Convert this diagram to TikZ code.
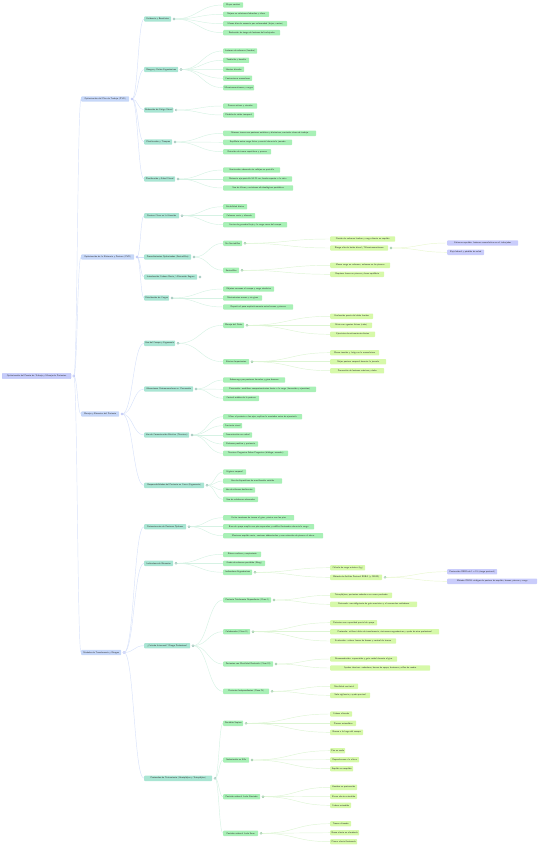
\documentclass[tikz,border=0pt]{standalone}
\usetikzlibrary{calc}
\definecolor{rootfill}{HTML}{C5CBFA}
\definecolor{rootline}{HTML}{AEB8F4}
\definecolor{onefill}{HTML}{C6D7F8}
\definecolor{twofill}{HTML}{A9E5D3}
\definecolor{threefill}{HTML}{A8F0B6}
\definecolor{fourfill}{HTML}{D6F9A9}
\definecolor{fivefill}{HTML}{C9CCFB}
\definecolor{bluelink}{HTML}{D8E2FA}
\definecolor{greenlink}{HTML}{D6F2E4}
\definecolor{limelink}{HTML}{DDF5D4}
\definecolor{palelink}{HTML}{E8F7CF}
\begin{document}
\begin{tikzpicture}[x=1pt,y=-1pt,
  box/.style={anchor=west, rounded corners=0.8pt, inner xsep=1pt, inner ysep=0pt,
    minimum height=5.4pt, font=\fontsize{2.25}{3}\selectfont\sffamily, text=black!80},
  l0/.style={box, fill=rootfill, draw=rootline, line width=0.2pt},
  l1/.style={box, fill=onefill},
  l2/.style={box, fill=twofill},
  l3/.style={box, fill=threefill},
  l4/.style={box, fill=fourfill},
  l5/.style={box, fill=fivefill},
  link/.style={line width=0.45pt, draw=#1,
    to path={.. controls ($(\tikztostart)!0.5!(\tikztotarget|-\tikztostart)$)
      and ($(\tikztotarget)!0.5!(\tikztostart|-\tikztotarget)$) .. (\tikztotarget)}},
  knob/.style={draw=#1, fill=white, line width=0.3pt}]
\useasboundingbox (0,0) rectangle (542,848);

% root and first level
\node[l0,minimum width=69] (r) at (2,376) {Optimización del Puesto de Trabajo y Manejo de Pacientes};
\node[l1,minimum width=48] (a) at (81,99) {Optimización del Plan de Trabajo (PVD)};
\node[l1,minimum width=53] (b) at (81,257) {Optimización de la Eficiencia y Postura (PVD)};
\node[l1,minimum width=38] (c) at (81,414) {Manejo y Bienestar del Paciente};
\node[l1,minimum width=40] (d) at (81,652.5) {Modelos de Transferencia y Riesgos};

% second level
\node[l2,minimum width=27] (a1) at (144,19) {Evidencia y Beneficios};
\node[l2,minimum width=34] (a2) at (144,69.5) {Riesgos y Daños Ergonómicos};
\node[l2,minimum width=29] (a3) at (144,110) {Reducción de Fatiga Visual};
\node[l2,minimum width=28] (a4) at (144,142) {Planificación y Tiempos};
\node[l2,minimum width=31] (a5) at (144,179) {Planificación y Salud Visual};
\node[l2,minimum width=35] (b1) at (144,215.7) {Postura Clave en la Atención};
\node[l2,minimum width=47] (b2) at (144,257) {Procedimientos Optimizados (Sentadillas)};
\node[l2,minimum width=53] (b3) at (144,277) {Introducción Cadena Recta / Alineación Segura};
\node[l2,minimum width=25] (b4) at (144,298) {Distribución de Cargas};
\node[l2,minimum width=31] (c1) at (144,343.3) {Uso del Cuerpo y Ergonomía};
\node[l2,minimum width=49] (c2) at (144,389) {Alteraciones Osteomusculares vs. Prevención};
\node[l2,minimum width=45] (c3) at (144,435) {Uso de Comunicación Efectiva (Técnicas)};
\node[l2,minimum width=60] (c4) at (144,485.3) {Responsabilidades del Paciente en Cama (Ergonomía)};
\node[l2,minimum width=42] (d1) at (144,526.7) {Determinantes de Posturas Óptimas};
\node[l2,minimum width=29] (d2) at (144,563.3) {Indicadores de Bienestar};
\node[l2,minimum width=46] (d3) at (144,645.7) {¿Cuándo Intervenir? Riesgo Profesional};
\node[l2,minimum width=68] (d4) at (144,778.3) {Protocolos de Tratamiento (Hemipléjico y Tetrapléjico)};

% third level
\node[l3,minimum width=20] (a1a) at (223,5) {Mayor confort};
\node[l3,minimum width=46] (a1b) at (223,14.3) {Mejora en relaciones laborales y clima};
\node[l3,minimum width=64] (a1c) at (223,23.7) {Menos días de ausencia por enfermedad (bajas, costes)};
\node[l3,minimum width=57] (a1d) at (223,32.7) {Reducción de riesgo de lesiones del trabajador};
\node[l3,minimum width=34] (a2a) at (223,51) {Lesiones de columna (lumbar)};
\node[l3,minimum width=26] (a2b) at (223,60.3) {Tendinitis y bursitis};
\node[l3,minimum width=21] (a2c) at (223,69.3) {Hernias discales};
\node[l3,minimum width=29] (a2d) at (223,78.3) {Contracturas musculares};
\node[l3,minimum width=31] (a2e) at (223,87.7) {Microtraumatismos y cargas};
\node[l3,minimum width=34] (a3a) at (223,106) {Pausas activas y visuales};
\node[l3,minimum width=31] (a3b) at (223,115) {Pérdida de visión temporal};
\node[l3,minimum width=93] (a4a) at (223,133.3) {Alternar tareas con posturas estáticas y dinámicas, controlar ritmo de trabajo};
\node[l3,minimum width=69] (a4b) at (223,142.3) {Equilibrio entre carga física y mental durante la jornada};
\node[l3,minimum width=48] (a4c) at (223,151.7) {Rotación de tareas repetitivas y pausas};
\node[l3,minimum width=57] (a5a) at (223,170) {Iluminación adecuada sin reflejos en pantalla};
\node[l3,minimum width=69] (a5b) at (223,179) {Distancia ojo-pantalla 50-70 cm, borde superior a la vista};
\node[l3,minimum width=70] (a5c) at (223,188) {Uso de filtros y revisiones oftalmológicas periódicas};
\node[l3,minimum width=24] (b1a) at (223,206.7) {Estabilidad básica};
\node[l3,minimum width=32] (b1b) at (223,215.7) {Columna recta y alineada};
\node[l3,minimum width=64] (b1c) at (223,224.7) {Centro de gravedad bajo y la carga cerca del cuerpo};
\node[l3,minimum width=19] (b2a) at (223,243.3) {Sin Sentadillas};
\node[l3,minimum width=16] (b2b) at (223,270.3) {Sentadillas};
\node[l3,minimum width=51] (b4a) at (223,289) {Objetos cercanos al cuerpo y carga simétrica};
\node[l3,minimum width=39] (b4b) at (223,298) {Movimientos suaves y sin giros};
\node[l3,minimum width=70] (b4c) at (223,307) {Repartir el peso equitativamente entre brazos y piernas};
\node[l3,minimum width=21] (c1a) at (223,325.3) {Manejo del Dolor};
\node[l3,minimum width=26] (c1b) at (223,361.7) {Efectos Importantes};
\node[l3,minimum width=62] (c2a) at (223,380) {Sobrecarga por posturas forzadas y giros bruscos};
\node[l3,minimum width=93] (c2b) at (223,389.3) {Prevención: modificar comportamientos frente a la carga (formación y ejercicios)};
\node[l3,minimum width=36] (c2c) at (223,398.3) {Control médico de la postura};
\node[l3,minimum width=79] (c3a) at (223,416.7) {Mirar al paciente a los ojos, explicar la maniobra antes de ejecutarla};
\node[l3,minimum width=19] (c3b) at (223,425.7) {Contacto visual};
\node[l3,minimum width=29] (c3c) at (223,435) {Comunicación no verbal};
\node[l3,minimum width=35] (c3d) at (223,444) {Refuerzo positivo y paciencia};
\node[l3,minimum width=65] (c3e) at (223,453.3) {Técnicas Preguntas Sobre Preguntas (diálogo, escucha)};
\node[l3,minimum width=23] (c4a) at (223,472) {Higiene corporal};
\node[l3,minimum width=59] (c4b) at (223,481) {Uso de dispositivos de movilización asistida};
\node[l3,minimum width=32] (c4c) at (223,490) {Uso de sábanas deslizantes};
\node[l3,minimum width=35] (c4d) at (223,499.3) {Uso de colchones adecuados};
\node[l3,minimum width=71] (d1a) at (223,517.7) {Evitar torsiones de tronco al girar, pivotar con los pies};
\node[l3,minimum width=91] (d1b) at (223,526.7) {Base de apoyo amplia con pies separados y rodillas flexionadas durante la carga};
\node[l3,minimum width=100] (d1c) at (223,535.7) {Mantener espalda recta, contraer abdominales y usar músculos de piernas al elevar};
\node[l3,minimum width=38] (d2a) at (223,554.3) {Ritmo cardiaco y respiratorio};
\node[l3,minimum width=42] (d2b) at (223,563.3) {Grado de esfuerzo percibido (Borg)};
\node[l3,minimum width=29] (d2c) at (223,572.3) {Indicadores Ergonómicos};
\node[l3,minimum width=48] (d3a) at (223,600) {Paciente Totalmente Dependiente (Clase I)};
\node[l3,minimum width=27] (d3b) at (223,631.7) {Colaborador (Clase II)};
\node[l3,minimum width=50] (d3c) at (223,664) {Pacientes con Movilidad Reducida (Clase III)};
\node[l3,minimum width=46] (d3d) at (223,691.3) {Pacientes Independientes (Clase IV)};
\node[l3,minimum width=20] (d4a) at (223,723.3) {Decúbito Supino};
\node[l3,minimum width=26] (d4b) at (223,760) {Sedestación en Silla};
\node[l3,minimum width=37] (d4c) at (223,796.7) {Posición sobre el Lado Afectado};
\node[l3,minimum width=35] (d4d) at (223,833.3) {Posición sobre el Lado Sano};

% fourth level
\node[l4,minimum width=65] (b2aa) at (330,239) {Flexión de columna lumbar y carga directa en espalda};
\node[l4,minimum width=58] (b2ab) at (330,248) {Riesgo alto de lesión discal / Microtraumatismos};
\node[l4,minimum width=60] (b2ba) at (330,265.3) {Menor carga en columna, esfuerzo en las piernas};
\node[l4,minimum width=54] (b2bb) at (330,274.3) {Requiere fuerza en piernas y buen equilibrio};
\node[l4,minimum width=43] (c1aa) at (330,316.3) {Evaluación previa del dolor lumbar};
\node[l4,minimum width=42] (c1ab) at (330,325.3) {Alivio con agentes físicos (calor)};
\node[l4,minimum width=45] (c1ac) at (330,334.3) {Ejercicios de estiramiento diarios};
\node[l4,minimum width=49] (c1ba) at (330,352.7) {Menor tensión y fatiga en la musculatura};
\node[l4,minimum width=56] (c1bb) at (330,361.7) {Mejor postura corporal durante la jornada};
\node[l4,minimum width=54] (c1bc) at (330,370.7) {Prevención de lesiones crónicas y dolor};
\node[l4,minimum width=35] (d2ca) at (330,567.7) {Cálculo de carga máxima (kg)};
\node[l4,minimum width=52] (d2cb) at (330,577.3) {Método de Análisis Postural REBA (y OWAS)};
\node[l4,minimum width=62] (d3aa) at (330,595.3) {Tetrapléjicos, pacientes sedados o en coma profundo};
\node[l4,minimum width=87] (d3ab) at (330,604.3) {Protocolo: uso obligatorio de grúa mecánica y al menos dos cuidadores};
\node[l4,minimum width=47] (d3ba) at (330,622.7) {Pacientes con capacidad parcial de apoyo};
\node[l4,minimum width=109] (d3bb) at (330,631.7) {Protocolo: utilizar tablas de transferencia, cinturones ergonómicos y ayuda de otro profesional};
\node[l4,minimum width=66] (d3bc) at (330,641) {Evaluación: valorar fuerza de brazos y control de tronco};
\node[l4,minimum width=67] (d3ca) at (330,659) {Recomendación: supervisión y guía verbal durante el giro};
\node[l4,minimum width=100] (d3cb) at (330,668) {Ayudas técnicas: andadores, barras de apoyo, bastones y sillas de ruedas};
\node[l4,minimum width=28] (d3da) at (330,686.3) {Movilidad casi total};
\node[l4,minimum width=40] (d3db) at (330,695.3) {Solo vigilancia y ayuda puntual};
\node[l4,minimum width=22] (d4aa) at (330,714) {Cabeza alineada};
\node[l4,minimum width=26] (d4ab) at (330,723.3) {Piernas extendidas};
\node[l4,minimum width=33] (d4ac) at (330,732.3) {Brazos a lo largo del cuerpo};
\node[l4,minimum width=15] (d4ba) at (330,750.7) {Pies en suelo};
\node[l4,minimum width=29] (d4bb) at (330,759.7) {Reposabrazos a la altura};
\node[l4,minimum width=23] (d4bc) at (330,768.7) {Espalda en respaldo};
\node[l4,minimum width=27] (d4ca) at (330,787.3) {Hombro en protracción};
\node[l4,minimum width=27] (d4cb) at (330,796.3) {Brazo afecto extendido};
\node[l4,minimum width=21] (d4cc) at (330,805.3) {Cadera extendida};
\node[l4,minimum width=21] (d4da) at (330,823.7) {Tronco alineado};
\node[l4,minimum width=29] (d4db) at (330,832.7) {Brazo afecto en almohada};
\node[l4,minimum width=27] (d4dc) at (330,841.7) {Pierna afecta flexionada};

% fifth level
\node[l5,minimum width=71] (b2aba) at (447,243) {Esfuerzo repetido: lesiones acumulativas en el trabajador};
\node[l5,minimum width=37] (b2abb) at (447,252.3) {Baja laboral y pérdida de salud};
\node[l5,minimum width=50] (d2cba) at (447,571.7) {Puntuación REBA de 1 a 15 (riesgo postural)};
\node[l5,minimum width=90] (d2cbb) at (447,581.3) {Método OWAS: códigos de postura de espalda, brazos, piernas y carga};

% knob points right of every parent
\foreach \p in {r,a,b,c,d,a1,a2,a3,a4,a5,b1,b2,b3,b4,c1,c2,c3,c4,d1,d2,d3,d4,
  b2a,b2b,c1a,c1b,d2c,d3a,d3b,d3c,d3d,d4a,d4b,d4c,d4d,b2ab,d2cb}
  \coordinate (o\p) at ([xshift=2.6]\p.east);

% links
\foreach \p/\c in {r/a,r/b,r/c,r/d,
  a/a1,a/a2,a/a3,a/a4,a/a5,b/b1,b/b2,b/b3,b/b4,c/c1,c/c2,c/c3,c/c4,d/d1,d/d2,d/d3,d/d4}
  \draw[link=bluelink] (o\p) to (\c.west);
\foreach \p/\c in {a1/a1a,a1/a1b,a1/a1c,a1/a1d,a2/a2a,a2/a2b,a2/a2c,a2/a2d,a2/a2e,
  a3/a3a,a3/a3b,a4/a4a,a4/a4b,a4/a4c,a5/a5a,a5/a5b,a5/a5c,b1/b1a,b1/b1b,b1/b1c,
  b2/b2a,b2/b2b,b4/b4a,b4/b4b,b4/b4c,c1/c1a,c1/c1b,c2/c2a,c2/c2b,c2/c2c,
  c3/c3a,c3/c3b,c3/c3c,c3/c3d,c3/c3e,c4/c4a,c4/c4b,c4/c4c,c4/c4d,
  d1/d1a,d1/d1b,d1/d1c,d2/d2a,d2/d2b,d2/d2c,d3/d3a,d3/d3b,d3/d3c,d3/d3d,
  d4/d4a,d4/d4b,d4/d4c,d4/d4d}
  \draw[link=greenlink] (o\p) to (\c.west);
\foreach \p/\c in {b2a/b2aa,b2a/b2ab,b2b/b2ba,b2b/b2bb,c1a/c1aa,c1a/c1ab,c1a/c1ac,
  c1b/c1ba,c1b/c1bb,c1b/c1bc,d2c/d2ca,d2c/d2cb,d3a/d3aa,d3a/d3ab,
  d3b/d3ba,d3b/d3bb,d3b/d3bc,d3c/d3ca,d3c/d3cb,d3d/d3da,d3d/d3db,
  d4a/d4aa,d4a/d4ab,d4a/d4ac,d4b/d4ba,d4b/d4bb,d4b/d4bc,
  d4c/d4ca,d4c/d4cb,d4c/d4cc,d4d/d4da,d4d/d4db,d4d/d4dc}
  \draw[link=limelink] (o\p) to (\c.west);
\foreach \p/\c in {b2ab/b2aba,b2ab/b2abb,d2cb/d2cba,d2cb/d2cbb}
  \draw[link=palelink] (o\p) to (\c.west);

% knobs
\foreach \p in {r,a,b,c,d}
  \draw[knob=rootline] (o\p) circle (1.1pt);
\foreach \p in {a1,a2,a3,a4,a5,b1,b2,b3,b4,c1,c2,c3,c4,d1,d2,d3,d4}
  \draw[knob=twofill!80!black] (o\p) circle (1.1pt);
\foreach \p in {b2a,b2b,c1a,c1b,d2c,d3a,d3b,d3c,d3d,d4a,d4b,d4c,d4d,b2ab,d2cb}
  \draw[knob=threefill!80!black] (o\p) circle (1.1pt);
\end{tikzpicture}
\end{document}
